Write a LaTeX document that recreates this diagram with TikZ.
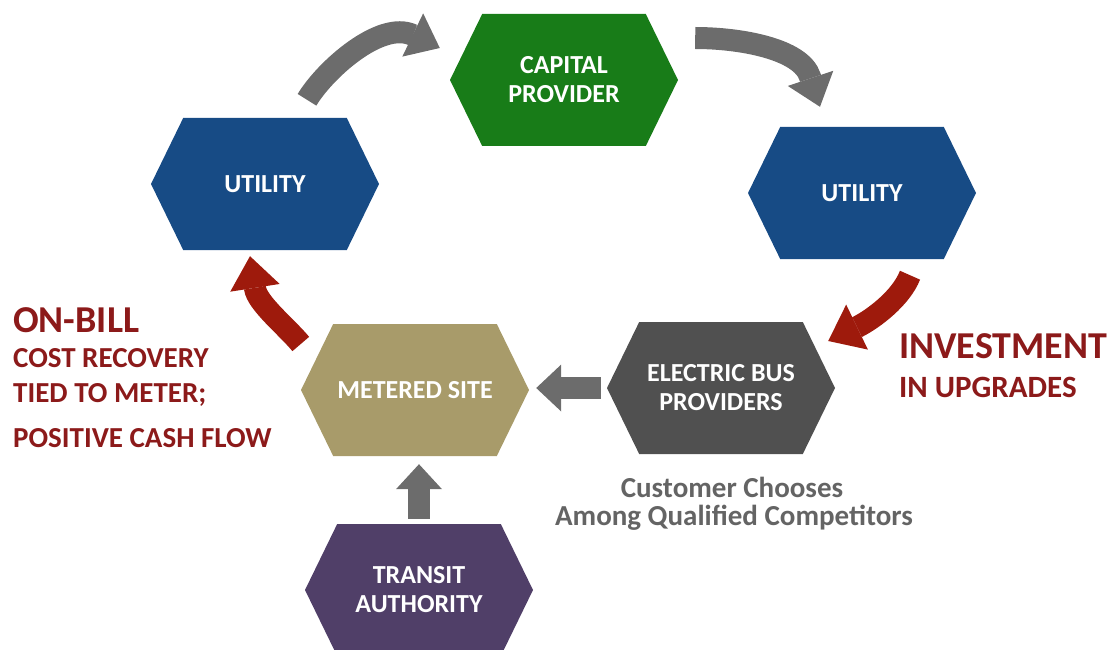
\documentclass[tikz,border=0pt]{standalone}
\usepackage{fontspec}
\setmainfont{Carlito}
\usetikzlibrary{shapes.symbols,arrows.meta,calc}

\definecolor{capgreen}{RGB}{24,124,24}
\definecolor{utilblue}{RGB}{23,75,133}
\definecolor{sitetan}{RGB}{168,155,106}
\definecolor{busgray}{RGB}{80,80,80}
\definecolor{transitpurple}{RGB}{80,63,104}
\definecolor{flowgray}{RGB}{108,108,108}
\definecolor{flowred}{RGB}{158,26,12}
\definecolor{notered}{RGB}{140,26,26}
\definecolor{notegray}{RGB}{100,100,100}

\tikzset{
	hexa/.style={signal, signal to=east and west, signal pointer angle=128, minimum width=228, minimum height=132, inner sep=0pt, text=white, align=center, font=\fontsize{26}{29}\selectfont\bfseries},
	grayflow/.style={draw=flowgray, line width=22pt, -{Triangle[length=30pt,width=48pt,line width=0pt]}},
	redflow/.style={draw=flowred, line width=22pt, -{Triangle[length=32pt,width=50pt,line width=0pt]}},
	notebig/.style={anchor=base west, inner sep=0pt, text=notered, font=\fontsize{38}{38}\selectfont\bfseries},
	notesmall/.style={anchor=base west, inner sep=0pt, text=notered, font=\fontsize{29}{29}\selectfont\bfseries},
	choice/.style={anchor=base, inner sep=0pt, text=notegray, font=\fontsize{29}{29}\selectfont\bfseries}
}

\begin{document}
\begin{tikzpicture}[x=1pt, y=-1pt]
	\useasboundingbox (0,0) rectangle (1120,650);
	\clip (0,0) rectangle (1120,650);

	\node[hexa, fill=capgreen] (capital) at (564,80) {CAPITAL\\PROVIDER};
	\node[hexa, fill=utilblue] (utilL) at (265,184) {UTILITY};
	\node[hexa, fill=utilblue] (utilR) at (862,193) {UTILITY};
	\node[hexa, fill=sitetan] (metered) at (415,390) {METERED SITE};
	\node[hexa, fill=busgray] (bus) at (721,388) {ELECTRIC BUS\\PROVIDERS};
	\node[hexa, fill=transitpurple] (transit) at (419,590) {TRANSIT\\AUTHORITY};

	\draw[grayflow] ($(utilL.north)+(42,-18)$) .. controls +(18,-30) and +(-32,-15) .. ($(capital.west)+(-37,-45)$) -- ($(capital.west)+(-10,-32)$);
	\draw[grayflow] ($(capital.east)+(17,-42)$) .. controls +(45,0) and +(-9,-28) .. ($(utilR.north)+(-52,-50)$) -- ($(utilR.north)+(-42,-20)$);
	\draw[redflow] ($(utilR.south)+(48,16)$) .. controls +(-9,23) and +(16,-8) .. ($(bus.east)+(22,-61)$) -- ($(bus.east)+(-7,-47)$);
	\draw[redflow] ($(metered.west)+(0,-46)$) .. controls +(-14,-17) and +(2,15) .. ($(utilL.south)+(-10,38)$) -- ($(utilL.south)+(-15,6)$);
	\draw[grayflow, -{Triangle[length=25pt,width=47pt,line width=0pt]}] ([xshift=-6]bus.west) -- ([xshift=7]metered.east |- bus.west);
	\draw[grayflow, -{Triangle[length=25pt,width=46pt,line width=0pt]}] ([yshift=5]transit.north) -- ([yshift=-8]metered.south -| transit.north);

	\node[notebig] (onbill) at (13,332) {ON-BILL};
	\node[notesmall] (costrec) at (13,367) {COST RECOVERY};
	\node[notesmall] (tied) at (13,402) {TIED TO METER;};
	\node[notesmall] (cashflow) at (13,447) {POSITIVE CASH FLOW};

	\node[notebig] (invest) at (899,358) {INVESTMENT};
	\node[notesmall, font=\fontsize{31}{31}\selectfont\bfseries] (upgrades) at (899,397) {IN UPGRADES};

	\node[choice] (chooses) at (732,497) {Customer Chooses};
	\node[choice] (among) at (734,525) {Among Qualified Competitors};
\end{tikzpicture}
\end{document}
